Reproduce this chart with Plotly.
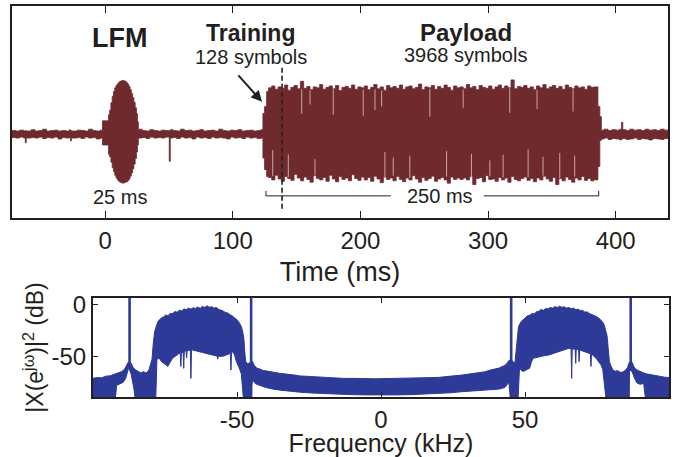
import plotly.graph_objects as go

# ---------------- colours / fonts ----------------
WAVE = "#6F2A2E"
STREAK = "rgba(235,205,205,0.75)"
SPEC = "#2D3A97"
INK = "#231F20"
FONT = "Liberation Sans, Arial, Helvetica, sans-serif"

# ---------------- time-domain waveform (envelope, amplitude a.u.) ----------------
pre_t = [-73, -70, -67, -64, -62.6, -61.8, -58, -55, -52, -49,
         -46, -43, -40, -37, -34, -31, -28, -27.2, -26.4, -22,
         -19, -16, -13, -10, -7, -4]
pre_hi = [.06, .05, .07, .05, .06, .05, .08, .05, .06, .09,
          .05, .06, .07, .05, .06, .05, .08, .06, .05, .07,
          .06, .05, .09, .06, .05, .07]
pre_lo = [-.09, -.1, -.08, -.1, -.2, -.1, -.09, -.1, -.08, -.11,
          -.09, -.1, -.08, -.12, -.09, -.1, -.09, -.16, -.1, -.09,
          -.11, -.08, -.1, -.09, -.12, -.1]

lfm_t = [-2.1, 2.6, 3.5, 4.5, 5.5, 6.5, 7.5, 8.5, 9.5, 10.5, 11.5, 12.5, 13.5,
         14.5, 15.5, 16.5, 17.5, 18.5, 19.5, 20.5, 21.5, 22.5, 23.5, 24.5, 25.3]
lfm_hi = [.27, .40, .50, .66, .80, .90, .98, 1.03, 1.07, 1.10, 1.12, 1.13, 1.14,
          1.13, 1.12, 1.09, 1.06, 1.01, .94, .86, .77, .67, .55, .43, .25]
lfm_lo = [-.25, -.45, -.50, -.62, -.74, -.82, -.90, -.96, -1.0, -1.03, -1.05, -1.06, -1.07,
          -1.06, -1.05, -1.04, -1.02, -.98, -.92, -.85, -.76, -.66, -.54, -.40, -.25]

mid_t = [26, 29, 32, 35, 38, 41, 44, 47, 50.2, 51,
         53, 56, 59, 62, 65, 68, 71, 74, 77, 80,
         83, 86, 89, 92, 95, 98, 101, 104, 107, 110,
         113, 116, 119, 122]
mid_hi = [.09, .06, .05, .08, .06, .05, .07, .06, .05, .08,
          .06, .05, .09, .06, .07, .05, .06, .08, .05, .06,
          .07, .05, .09, .06, .05, .07, .06, .08, .05, .06,
          .07, .05, .06, .08]
mid_lo = [-.1, -.09, -.11, -.08, -.1, -.09, -.1, -.08, -.6, -.1,
          -.09, -.11, -.08, -.1, -.09, -.12, -.08, -.1, -.09, -.11,
          -.08, -.1, -.09, -.1, -.12, -.08, -.1, -.09, -.11, -.08,
          -.1, -.09, -.11, -.1]

pay_t = [123.6, 124.9, 126.5,
         128.0, 130.5, 133.0, 135.5, 138.0, 140.5, 143.0, 145.5, 148.0, 150.5,
         153.0, 155.5, 158.0, 160.5, 163.0, 165.5, 168.0, 170.5, 173.0, 175.5,
         178.0, 180.5, 183.0, 185.5, 188.0, 190.5, 193.0, 195.5, 198.0, 200.5,
         203.0, 205.5, 208.0, 210.5, 213.0, 215.5, 218.0, 220.5, 223.0, 225.5,
         228.0, 230.5, 233.0, 235.5, 238.0, 240.5, 243.0, 245.5, 248.0, 250.5,
         253.0, 255.5, 258.0, 260.5, 263.0, 265.5, 268.0, 270.5, 273.0, 275.5,
         278.0, 280.5, 283.0, 285.5, 288.0, 290.5, 293.0, 295.5, 298.0, 300.5,
         303.0, 305.5, 308.0, 310.5, 313.0, 315.5, 318.0, 320.5, 323.0, 325.5,
         328.0, 330.5, 333.0, 335.5, 338.0, 340.5, 343.0, 345.5, 348.0, 350.5,
         353.0, 355.5, 358.0, 360.5, 363.0, 365.5, 368.0, 370.5, 373.0, 375.5,
         378.0, 380.5, 383.0,
         384.1, 386.1, 387.6]
pay_hi = [.43, .58, .90,
          .98, 1.02, .95, 1.0, .97, 1.04, .93, .99, 1.03, .96,
          1.12, .97, 1.01, .94, 1.0, .98, 1.05, .95, .99, 1.02,
          .96, 1.03, .92, .99, 1.01, .97, 1.04, .95, 1.0, .98,
          1.02, .94, .99, 1.05, .96, 1.0, .93, 1.03, .98, 1.01,
          .97, 1.04, .95, 1.0, 1.02, .96, .99, 1.06, .94, 1.0,
          .98, 1.03, .95, 1.01, .97, 1.04, .99, .93, 1.02, .98,
          1.0, .96, 1.05, .98, 1.01, .94, 1.03, .99, .97, 1.02,
          .95, 1.0, 1.04, .97, 1.02, .98, 1.15, .96, 1.01, .99,
          1.03, .97, 1.0, .94, 1.02, .98, 1.05, .96, 1.0, 1.03,
          .97, 1.01, .95, 1.04, .99, .96, 1.02, .98, 1.0, .95,
          1.02, .99, 1.0,
          1.0, .58, .36]
pay_lo = [-.53, -.78, -.93,
          -.95, -1.0, -.9, -.98, -1.03, -.93, -.97, -1.01, -.88, -.96,
          -1.02, -.94, -.99, -1.05, -.91, -.97, -1.0, -.95, -1.03, -.9,
          -.98, -1.04, -.93, -.99, -.96, -1.02, -.89, -.97, -1.01, -.94,
          -1.0, -.95, -1.03, -.92, -.98, -1.06, -.94, -.99, -.96, -1.02,
          -.93, -.99, -1.04, -.96, -1.0, -.91, -.98, -1.05, -.95, -1.01,
          -.97, -.92, -1.03, -.98, -.95, -1.0, -1.07, -.94, -.99, -.96,
          -.99, -.96, -1.0, -.93, -1.1, -.97, -.95, -1.04, -.91, -.99,
          -.98, -1.03, -.95, -1.0, -.96, -1.05, -.93, -.99, -1.02, -.97,
          -.94, -1.01, -.97, -1.04, -.96, -1.0, -.92, -.98, -1.03, -.95,
          -1.1, -.97, -1.02, -.94, -.99, -1.05, -.96, -1.0, -.93, -1.01,
          -.97, -1.02, -.99,
          -1.0, -.71, -.15]

post_t = [388.8, 391, 394, 397, 400, 403, 404.6, 405.6, 408, 411,
          414, 417, 420, 423, 426, 429, 432, 435, 438, 441]
post_hi = [.07, .09, .06, .08, .07, .09, .24, .08, .06, .09,
           .07, .08, .06, .09, .07, .08, .06, .09, .07, .08]
post_lo = [-.12, -.1, -.13, -.11, -.12, -.14, -.12, -.11, -.13, -.12,
           -.1, -.13, -.11, -.12, -.14, -.11, -.12, -.13, -.11, -.12]

wave_t = pre_t + lfm_t + mid_t + pay_t + post_t
wave_hi = pre_hi + lfm_hi + mid_hi + pay_hi + post_hi
wave_lo = pre_lo + lfm_lo + mid_lo + pay_lo + post_lo

# light gaps between payload samples (upper and lower halves)
streak_up_t = [154.0, 160.5, 178.7, 202.2, 211.4, 216.6, 254.4, 280.5, 317.0, 338.4, 366.6]
streak_up_top = [.95, .93, .96, .94, .95, .92, .96, .94, .97, .93, .95]
streak_up_bot = [.42, .62, .40, .38, .50, .58, .36, .55, .44, .52, .47]
streak_lo_t = [131.3, 143.5, 164.4, 219.2, 225.7, 238.7, 267.5, 287.0, 301.4, 311.8,
               331.4, 343.1, 356.2, 367.9]
streak_lo_top = [-.36, -.45, -.55, -.40, -.52, -.48, -.38, -.44, -.58, -.46,
                 -.34, -.50, -.42, -.48]
streak_lo_bot = [-.92, -.94, -.90, -.95, -.91, -.96, -.93, -.97, -.92, -.95,
                 -.94, -.91, -.96, -.93]

# ---------------- spectrum (upper / lower envelope, dB) ----------------
spec_up_f = [-100, -98.5, -97, -95.5, -94, -92.5, -91, -90, -89, -88.3, -87.8,
             -86.8, -86.2, -85.4, -84.5, -83.5, -82.5, -81.5, -80.6, -80.0, -79.5,
             -79.1, -78.6, -78.0, -77.4, -76.8, -76.2, -75.5, -74.8, -74.0, -73.2,
             -72.4, -71.6, -70.8, -70.0, -69.2, -68.4, -67.6, -66.8, -66.0, -65.2,
             -64.4, -63.6, -62.8, -62.0, -61.2, -60.4, -59.6, -58.8, -58.0, -57.2,
             -56.4, -55.6, -54.8, -54.0, -53.2, -52.4, -51.6, -50.8, -50.0, -49.2,
             -48.5, -48.0, -47.6, -47.3, -47.0, -46.4, -45.7,
             -44.6, -44.0, -43.0, -42.0, -41.0, -39.5, -38.0, -36.5, -35.0, -33.5,
             -32.0, -30.0, -28.0, -26.0, -24.0, -22.0, -20.0, -17.5, -15.0, -12.5,
             -10.0, -7.5, -5.0, -2.5, 0.0, 2.5, 5.0, 7.5, 10.0, 12.5,
             15.0, 17.5, 20.0, 22.0, 24.0, 26.0, 28.0, 30.0, 32.0, 34.0,
             36.0, 38.0, 39.5, 41.0, 42.5, 43.5, 44.5,
             45.8, 46.5, 46.9, 47.3, 47.7, 48.0, 48.6, 49.3, 50.0, 50.8,
             51.6, 52.4, 53.2, 54.0, 54.8, 55.6, 56.4, 57.2, 58.0, 58.8,
             59.6, 60.4, 61.2, 62.0, 62.8, 63.6, 64.4, 65.2, 66.0, 66.8,
             67.6, 68.4, 69.2, 70.0, 70.8, 71.6, 72.4, 73.2, 74.0, 74.8,
             75.6, 76.4, 77.0, 77.5, 78.0, 78.5, 78.9, 79.3, 79.8, 80.5,
             81.3, 82.2, 83.1, 84.0, 84.9, 85.6, 86.2, 87.2, 87.7, 88.2,
             89.0, 90.0, 91.0, 92.5, 94.0, 95.5, 97.0, 98.5, 100.0]
spec_up_db = [-70.3, -69.5, -69.8, -68.2, -67.8, -66.5, -65.2, -63.8, -61.5, -58.0, -55.0,
              -55.5, -59.5, -62.0, -63.5, -65.0, -64.0, -65.2, -62.5, -57.0, -52.0,
              -38.0, -26.0, -20.5, -16.0, -14.5, -12.8, -12.0, -10.2, -10.8, -8.6,
              -9.0, -6.8, -7.5, -5.6, -6.2, -4.4, -5.0, -3.6, -4.6, -3.2,
              -4.0, -2.6, -3.8, -2.0, -3.0, -1.4, -2.8, -2.2, -3.6, -3.0,
              -4.8, -5.4, -6.4, -7.8, -8.2, -10.0, -11.0, -13.0, -14.6, -17.5,
              -21.0, -26.0, -33.0, -45.0, -54.0, -56.5, -55.5,
              -54.5, -58.0, -60.8, -61.5, -62.8, -63.4, -64.3, -64.8, -65.6, -66.0,
              -66.8, -67.2, -68.0, -68.3, -69.0, -69.2, -69.6, -69.9, -70.2, -70.4,
              -70.3, -70.6, -70.5, -70.7, -70.6, -70.5, -70.6, -70.4, -70.3, -70.1,
              -70.0, -69.8, -69.4, -68.8, -68.5, -67.7, -67.2, -66.4, -65.8, -65.0,
              -64.1, -62.4, -61.8, -60.5, -58.6, -57.0, -53.0,
              -54.0, -56.0, -45.0, -30.0, -22.0, -19.6, -16.5, -14.8, -12.6, -11.0,
              -10.4, -8.8, -9.2, -7.0, -6.6, -5.0, -5.6, -4.0, -4.4, -3.0,
              -3.6, -2.2, -3.0, -1.8, -2.8, -2.4, -3.6, -3.0, -4.2, -3.6,
              -5.0, -4.6, -6.0, -5.8, -7.4, -7.2, -8.8, -9.6, -10.8, -11.6,
              -13.0, -15.0, -17.0, -19.6, -24.0, -30.0, -42.0, -54.5, -58.0, -62.4,
              -63.5, -63.0, -64.6, -64.2, -62.5, -60.0, -55.0, -55.0, -58.5, -61.0,
              -62.5, -64.0, -65.0, -66.2, -67.0, -68.0, -68.4, -69.2, -69.5]

spec_lo_f = [-100, -92.2, -91.8, -90.5, -89.5, -88.6, -88.0, -87.6,
             -86.8, -86.3, -85.8, -85.4, -78.2, -77.8, -77.0, -76.2, -75.3, -74.6,
             -74.0, -73.4, -72.4, -71.2, -70.0, -69.7, -69.5, -69.3, -68.7, -68.5,
             -68.3, -67.7, -67.5, -67.3, -66.2, -66.0, -65.8, -65.4, -64.2, -63.0,
             -61.8, -60.7, -59.5, -58.4, -56.9, -56.7, -56.5, -55.0, -53.7, -52.5,
             -52.3, -52.1, -51.9, -51.4, -50.8, -50.2, -49.3, -48.5, -47.8,
             -45.6, -44.6, -43.5, -42.0, -40.0, -37.5, -35.0, -32.0, -28.0, -24.0,
             -20.0, -15.0, -10.0, -5.0, 0.0, 5.0, 10.0, 15.0, 20.0, 24.0,
             28.0, 32.0, 35.0, 38.0, 41.0, 43.0, 44.4, 44.9,
             47.6, 48.1, 48.6, 49.4, 50.2, 51.0, 51.6, 52.2, 52.8, 53.8,
             54.8, 56.5, 58.3, 60.0, 61.8, 63.5, 65.3, 66.0, 66.2, 66.4,
             67.4, 67.6, 67.8, 68.6, 68.8, 69.0, 70.5, 72.3, 72.7, 72.9,
             73.1, 74.7, 75.6, 76.4, 77.0, 77.5, 78.1, 86.2, 86.3,
             87.2, 88.0, 88.8, 90.0, 91.2, 91.8, 100]
spec_lo_db = [-89, -89, -77.0, -75.5, -74.0, -70.0, -64.0, -60.0,
              -66.0, -74.0, -80.0, -89, -89, -52.0, -51.3, -54.5, -56.0, -57.6,
              -59.0, -55.8, -51.3, -48.5, -46.5, -47.0, -59.0, -46.8, -45.2, -60.8,
              -44.9, -44.0, -51.0, -43.8, -43.5, -70.3, -43.5, -43.4, -44.2, -45.0,
              -45.8, -46.5, -47.2, -48.1, -49.2, -52.0, -49.3, -49.4, -48.1, -46.8,
              -46.2, -62.4, -46.0, -45.0, -48.5, -54.5, -60.0, -66.0, -89,
              -89, -72.0, -75.5, -77.0, -79.0, -80.5, -81.5, -82.6, -83.5, -84.2,
              -84.8, -85.4, -85.8, -86.0, -86.2, -86.0, -85.8, -85.3, -84.7, -84.0,
              -83.0, -82.0, -81.3, -81.0, -80.5, -79.0, -74.0, -89,
              -89, -60.0, -62.4, -63.8, -63.0, -61.5, -60.8, -55.0, -51.3, -50.5,
              -49.7, -48.9, -48.1, -46.8, -45.0, -43.3, -41.8, -42.2, -70.3, -42.3,
              -42.6, -56.0, -42.7, -43.2, -54.5, -43.3, -44.8, -46.5, -47.0, -59.0,
              -47.2, -51.3, -54.0, -57.6, -62.0, -70.0, -89, -89, -62.0,
              -64.0, -70.0, -74.5, -76.0, -75.0, -89, -89]

# narrow carrier lines
spike_f = [-87.3, -45.1, 45.2, 86.7]
spike_base_db = [-60, -89, -89, -56]
spike_peak_db = [7, 7, 7, 7]

# tick labels
time_ticks = [0, 100, 200, 300, 400]
freq_ticks = [-50, 0, 50]
freq_tick_text = ["-50", "0", "50"]
db_ticks = [-50, 0]
db_tick_text = ["-50", "0"]

# ---------------- figure ----------------
fig = go.Figure()

fig.add_trace(go.Scatter(x=wave_t, y=wave_lo, mode="lines",
                         line=dict(color=WAVE, width=0.8, shape="hv"),
                         xaxis="x", yaxis="y", hoverinfo="skip", showlegend=False))
fig.add_trace(go.Scatter(x=wave_t, y=wave_hi, mode="lines",
                         line=dict(color=WAVE, width=0.8, shape="hv"),
                         fill="tonexty", fillcolor=WAVE,
                         xaxis="x", yaxis="y", hoverinfo="skip", showlegend=False))

gx, gy = [], []
for t, a, b in zip(streak_up_t, streak_up_top, streak_up_bot):
    gx += [t, t, None]
    gy += [a, b, None]
for t, a, b in zip(streak_lo_t, streak_lo_top, streak_lo_bot):
    gx += [t, t, None]
    gy += [a, b, None]
fig.add_trace(go.Scatter(x=gx, y=gy, mode="lines", line=dict(color=STREAK, width=1),
                         xaxis="x", yaxis="y", hoverinfo="skip", showlegend=False))

poly_f = spec_up_f + spec_lo_f[::-1]
poly_db = spec_up_db + spec_lo_db[::-1]
fig.add_trace(go.Scatter(x=poly_f, y=poly_db, mode="lines", fill="toself",
                         fillcolor=SPEC, line=dict(color=SPEC, width=1),
                         xaxis="x2", yaxis="y2", hoverinfo="skip", showlegend=False))

sx, sy = [], []
for f, b, p in zip(spike_f, spike_base_db, spike_peak_db):
    sx += [f, f, None]
    sy += [b, p, None]
fig.add_trace(go.Scatter(x=sx, y=sy, mode="lines", line=dict(color=SPEC, width=2.6),
                         xaxis="x2", yaxis="y2", hoverinfo="skip", showlegend=False))

# ---------------- annotations (in data coordinates of the top panel) ----------------
texts = [
    ("<b>LFM</b>", 11.0, 2.05, 27),
    ("<b>Training</b>", 113.9, 2.16, 23),
    ("128 symbols", 113.9, 1.645, 20),
    ("<b>Payload</b>", 282.6, 2.18, 24),
    ("3968 symbols", 282.6, 1.69, 20),
    ("25 ms", 11.4, -1.366, 20),
    ("250 ms", 262.2, -1.344, 20),
]
for txt, tx, ty, sz in texts:
    fig.add_annotation(x=tx, y=ty, xref="x", yref="y", text=txt, showarrow=False,
                       font=dict(family=FONT, size=sz, color=INK),
                       xanchor="center", yanchor="middle")

fig.add_annotation(x=122.9, y=0.68, ax=103.3, ay=1.28, xref="x", yref="y",
                   axref="x", ayref="y", text="", showarrow=True,
                   arrowhead=2, arrowsize=1.1, arrowwidth=2, arrowcolor=INK)

train_end_t = 138.6
bracket_t0, bracket_t1, bracket_gap0, bracket_gap1 = 126.0, 386.7, 223.9, 296.7
bracket_y, bracket_tick_y = -1.344, -1.237

shapes = [
    dict(type="line", xref="x", yref="y", x0=train_end_t, x1=train_end_t, y0=1.41, y1=-1.65,
         line=dict(color=INK, width=1.6, dash="5px,3px"), layer="above"),
    dict(type="line", xref="x", yref="y", x0=bracket_t0, x1=bracket_gap0, y0=bracket_y, y1=bracket_y,
         line=dict(color=INK, width=1), layer="above"),
    dict(type="line", xref="x", yref="y", x0=bracket_gap1, x1=bracket_t1, y0=bracket_y, y1=bracket_y,
         line=dict(color=INK, width=1), layer="above"),
    dict(type="line", xref="x", yref="y", x0=bracket_t0, x1=bracket_t0, y0=bracket_y, y1=bracket_tick_y,
         line=dict(color=INK, width=1), layer="above"),
    dict(type="line", xref="x", yref="y", x0=bracket_t1, x1=bracket_t1, y0=bracket_y, y1=bracket_tick_y,
         line=dict(color=INK, width=1), layer="above"),
]

W, H = 678, 457
axis_common = dict(showline=True, linewidth=2, linecolor=INK, showgrid=False,
                   zeroline=False, automargin=False, tickcolor=INK, tickwidth=1,
                   tickfont=dict(family=FONT, size=24, color=INK))

fig.update_layout(
    width=W, height=H, margin=dict(l=0, r=0, t=0, b=0),
    paper_bgcolor="white", plot_bgcolor="white",
    font=dict(family=FONT, color=INK),
    shapes=shapes,
    xaxis=dict(domain=[12 / W, 668 / W], range=[-73, 441], anchor="y",
               tickvals=time_ticks, ticks="inside", ticklen=7, mirror="ticks",
               title=dict(text="Time (ms)", font=dict(family=FONT, size=27, color=INK), standoff=9),
               **axis_common),
    yaxis=dict(domain=[1 - 218 / H, 1 - 6 / H], range=[-1.82, 2.74], anchor="x",
               ticks="", showticklabels=False, mirror=True, **axis_common),
    xaxis2=dict(domain=[93 / W, 669 / W], range=[-100, 100], anchor="y2",
                tickvals=freq_ticks, ticktext=freq_tick_text, ticks="inside", ticklen=5,
                mirror="ticks",
                title=dict(text="Frequency (kHz)", font=dict(family=FONT, size=25, color=INK), standoff=5),
                **axis_common),
    yaxis2=dict(domain=[1 - 397 / H, 1 - 298 / H], range=[-88, 6], anchor="x2",
                tickvals=db_ticks, ticktext=db_tick_text, ticks="inside", ticklen=5,
                mirror="ticks",
                title=dict(text="|X(e<sup>jω</sup>)|<sup>2</sup> (dB)",
                           font=dict(family=FONT, size=23, color=INK), standoff=1),
                **axis_common),
)

fig.write_html("out.html", config={"displayModeBar": False},
               post_script="document.body.style.margin='0';document.body.style.overflow='hidden';")
